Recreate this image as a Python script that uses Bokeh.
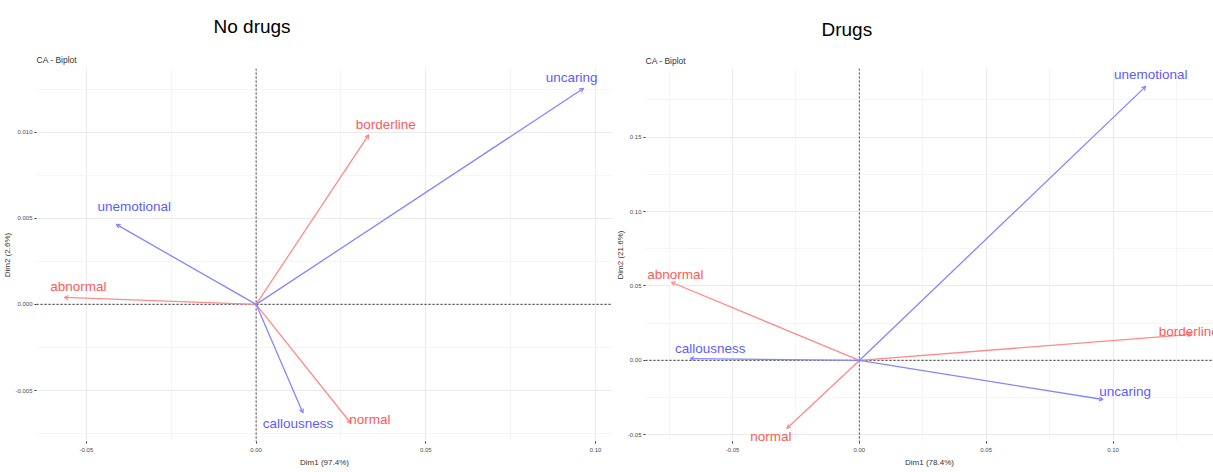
from bokeh.plotting import figure
from bokeh.layouts import row
from bokeh.models import (ColumnDataSource, Arrow, OpenHead, Span, FixedTicker,
                          Title, Range1d, PrintfTickFormatter, LabelSet)
from bokeh.embed import file_html
from bokeh.resources import INLINE
from bokeh.core.properties import value

# ---------------- data ----------------
# No drugs panel
nd_rows = ["abnormal", "borderline", "normal"]
nd_row_x = [-0.0565, 0.0332, 0.0279]
nd_row_y = [0.0004, 0.00985, -0.0069]
nd_cols = ["callousness", "uncaring", "unemotional"]
nd_col_x = [0.0138, 0.0965, -0.0412]
nd_col_y = [-0.0063, 0.01254, 0.00464]
nd_dim1 = "Dim1 (97.4%)"
nd_dim2 = "Dim2 (2.6%)"

# Drugs panel
d_rows = ["abnormal", "borderline", "normal"]
d_row_x = [-0.0741, 0.131, -0.0286]
d_row_y = [0.0525, 0.0175, -0.0457]
d_cols = ["callousness", "uncaring", "unemotional"]
d_col_x = [-0.0667, 0.0961, 0.1129]
d_col_y = [0.0013, -0.0262, 0.184]
d_dim1 = "Dim1 (78.4%)"
d_dim2 = "Dim2 (21.6%)"

# label nudges in screen pixels (dx right, dy down)
nd_row_nudge = {"abnormal": (14, -11), "borderline": (17, -10), "normal": (19, -4)}
nd_col_nudge = {"callousness": (-5, 11), "uncaring": (-12, -11), "unemotional": (18, -18)}
d_row_nudge = {"abnormal": (4, -8), "borderline": (-3, -3), "normal": (-16, 8)}
d_col_nudge = {"callousness": (20, -10), "uncaring": (22, -8), "unemotional": (5, -12)}

FONT = "Liberation Sans"
RED_TXT = "#FF5A5A"
BLUE_TXT = "#5C5CFF"
RED_LINE = "#FF8A8A"
BLUE_LINE = "#8585FF"


def panel(main_title, dim1, dim2, xr, yr, xt, xm, yt, ym, yfmt,
          rows, rx, ry, rnud, cols, cx, cy, cnud,
          width, mbl, mbr, mbt, mbb, title_offset, title_standoff, sub_standoff):
    p = figure(width=width, height=472, x_range=Range1d(*xr), y_range=Range1d(*yr),
               output_backend="svg", toolbar_location=None,
               min_border_left=mbl, min_border_right=mbr,
               min_border_top=mbt, min_border_bottom=mbb)
    p.outline_line_color = None
    p.background_fill_color = "white"
    p.border_fill_color = "white"

    p.title.text = main_title
    p.title.text_font = FONT
    p.title.text_font_size = "19px"
    p.title.text_font_style = "normal"
    p.title.text_color = "black"
    p.title.align = "left"
    p.title.offset = title_offset
    p.title.standoff = title_standoff
    p.add_layout(Title(text="CA - Biplot", text_font=FONT, text_font_size="8.5px",
                       text_font_style="normal", text_color="#333333", align="left",
                       standoff=sub_standoff), "above")

    xtick = FixedTicker(ticks=xt, minor_ticks=xm)
    ytick = FixedTicker(ticks=yt, minor_ticks=ym)
    p.xaxis.ticker = xtick
    p.yaxis.ticker = ytick
    p.xaxis.formatter = PrintfTickFormatter(format="%.2f")
    p.yaxis.formatter = PrintfTickFormatter(format=yfmt)
    p.xgrid.ticker = xtick
    p.ygrid.ticker = ytick
    for g in (p.xgrid, p.ygrid):
        g.grid_line_color = "#EBEBEB"
        g.grid_line_width = 1
        g.minor_grid_line_color = "#F3F3F3"
        g.minor_grid_line_width = 0.8
    for ax in (p.xaxis, p.yaxis):
        ax.axis_line_color = None
        ax.major_tick_in = 0
        ax.major_tick_out = 2
        ax.major_tick_line_color = "#333333"
        ax.minor_tick_line_color = None
        ax.major_label_text_font = FONT
        ax.major_label_text_font_size = "6px"
        ax.major_label_text_color = "#4D4D4D"
        ax.major_label_standoff = 0
        ax.axis_label_text_font = FONT
        ax.axis_label_text_font_size = "8px"
        ax.axis_label_text_font_style = "normal"
        ax.axis_label_text_color = "#333333"
        ax.axis_label_standoff = 0
    p.xaxis.axis_label_standoff = 3
    p.xaxis.major_label_standoff = 2
    p.xaxis.axis_label = dim1
    p.yaxis.axis_label = dim2

    p.add_layout(Span(location=0, dimension="height", line_color="#555555",
                      line_width=1.1, line_dash="2 2"))
    p.add_layout(Span(location=0, dimension="width", line_color="#555555",
                      line_width=1.3, line_dash="2 2"))

    for labels, xs, ys, nud, lc, tc in ((rows, rx, ry, rnud, RED_LINE, RED_TXT),
                                         (cols, cx, cy, cnud, BLUE_LINE, BLUE_TXT)):
        src = ColumnDataSource(dict(x=xs, y=ys, x0=[0] * len(xs), y0=[0] * len(xs),
                                    label=labels,
                                    dx=[nud[l][0] for l in labels],
                                    dy=[-nud[l][1] for l in labels]))
        p.add_layout(Arrow(x_start="x0", y_start="y0", x_end="x", y_end="y", source=src,
                           line_color=lc, line_width=1.3,
                           end=OpenHead(size=4, line_color=lc, line_width=1.2)))
        p.add_layout(LabelSet(x="x", y="y", text="label", x_offset="dx", y_offset="dy",
                              source=src, text_font=value(FONT),
                              text_font_size=value("13.5px"),
                              text_color=tc, text_align="center",
                              text_baseline="middle"))
    return p


left = panel("No drugs", nd_dim1, nd_dim2, (-0.0647, 0.105), (-0.00796, 0.01369),
             [-0.05, 0.0, 0.05, 0.10], [-0.075, -0.025, 0.025, 0.075],
             [-0.005, 0.0, 0.005, 0.010], [-0.0075, -0.0025, 0.0025, 0.0075, 0.0125], "%.3f",
             nd_rows, nd_row_x, nd_row_y, nd_row_nudge,
             nd_cols, nd_col_x, nd_col_y, nd_col_nudge,
             width=612, mbl=35, mbr=0, mbt=63, mbb=31, title_offset=177,
             title_standoff=23, sub_standoff=8)

right = panel("Drugs", d_dim1, d_dim2, (-0.0843, 0.1396), (-0.0544, 0.196),
              [-0.05, 0.0, 0.05, 0.10], [-0.075, -0.025, 0.025, 0.075, 0.125],
              [-0.05, 0.0, 0.05, 0.10, 0.15], [-0.025, 0.025, 0.075, 0.125, 0.175], "%.2f",
              d_rows, d_row_x, d_row_y, d_row_nudge,
              d_cols, d_col_x, d_col_y, d_col_nudge,
              width=601, mbl=30, mbr=0, mbt=68, mbb=31, title_offset=176,
              title_standoff=23, sub_standoff=5)

layout = row(left, right)
open("out.html", "w").write(file_html(layout, INLINE))
